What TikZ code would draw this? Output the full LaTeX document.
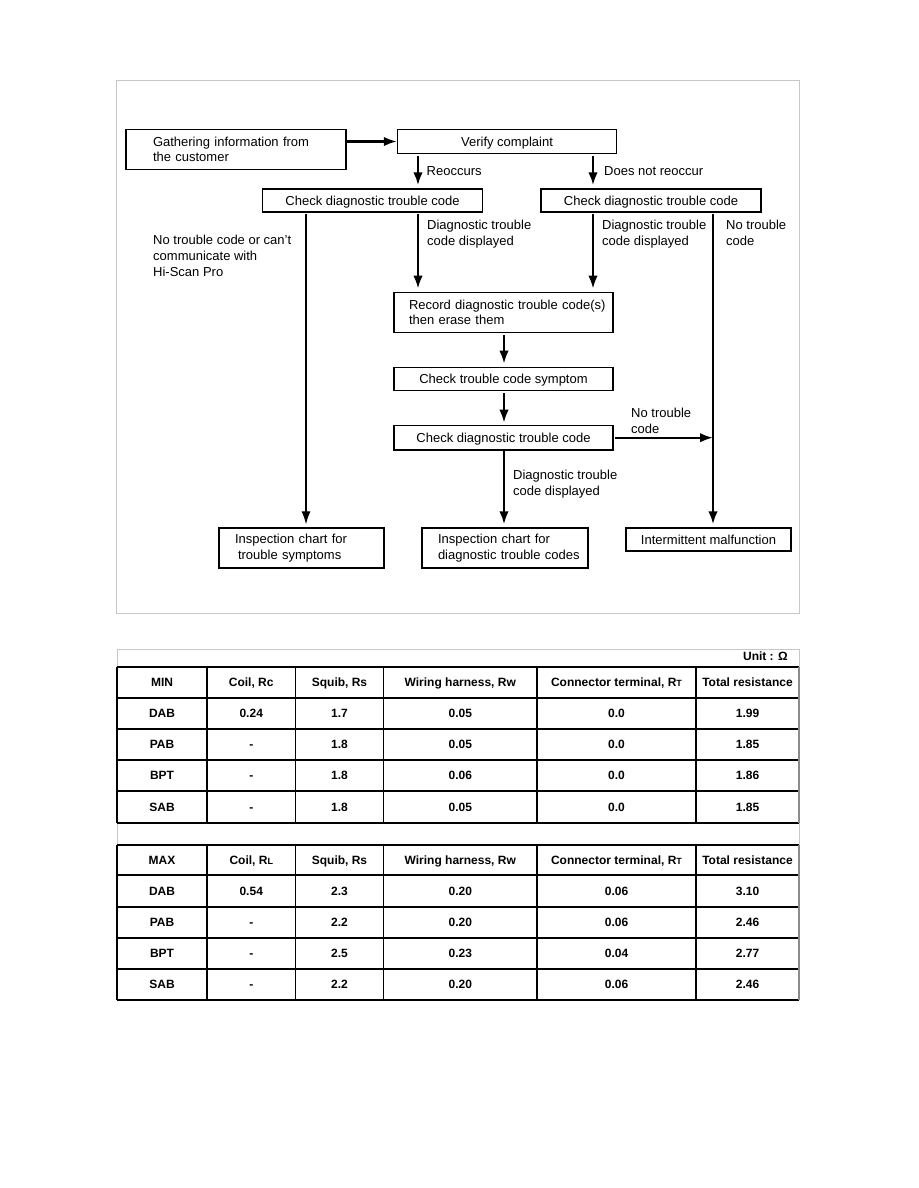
\documentclass[tikz,border=0pt]{standalone}
\usepackage{fontspec}
\setmainfont{Liberation Sans}
\usetikzlibrary{arrows.meta}
\newcommand\flowfont{\fontsize{13}{15.7}\selectfont}
\newcommand\tabfont{\fontsize{12}{14}\selectfont\bfseries}
\newcommand\smallsub[1]{{\fontsize{9}{9}\selectfont #1}}
\newcommand\trow[8]{%
  \node[cell] (#1a) at (162,#2) {#3};
  \node[cell] (#1b) at (251.25,#2) {#4};
  \node[cell] (#1c) at (339.5,#2) {#5};
  \node[cell] (#1d) at (460.25,#2) {#6};
  \node[cell] (#1e) at (616.5,#2) {#7};
  \node[cell] (#1f) at (747.5,#2) {#8};
}
\tikzset{
  box/.style={draw, line width=1.4pt, inner sep=0pt, font=\flowfont},
  oneline/.style={text height=9.4pt, text depth=0pt},
  lbl/.style={anchor=north west, inner sep=0pt, align=left, font=\flowfont},
  arr/.style={line width=2.3pt, -{Latex[length=13pt,width=9.5pt]}},
  thinarr/.style={line width=1.2pt, -{Latex[length=13pt,width=9pt]}},
  gframe/.style={draw=black!22, line width=1pt},
  grid/.style={draw=black, line width=1.2pt},
  cell/.style={inner sep=0pt, font=\tabfont, text height=8.6pt, text depth=0pt},
}
\begin{document}
\begin{tikzpicture}[x=1pt,y=-1pt]
\useasboundingbox (0,0) rectangle (918,1188);
\fill[white] (0,0) rectangle (918,1188);

% ---------- flowchart ----------
\draw[gframe] (116,81) rectangle (799,613);

\node[box, minimum width=220pt, minimum height=40pt, text width=166pt, align=left] (gather) at (236,149.5) {\mbox{Gathering information from}\\\mbox{the customer}};
\node[box, oneline, minimum width=219pt, minimum height=24.4pt] (verify) at (507,141.5) {Verify complaint};
\node[box, oneline, minimum width=220pt, minimum height=23pt] (chkL) at (372.5,200.5) {Check diagnostic trouble code};
\node[box, oneline, minimum width=220pt, minimum height=23pt] (chkR) at (651,200.5) {Check diagnostic trouble code};
\node[box, minimum width=219pt, minimum height=40pt, text width=189pt, align=left] (record) at (503.5,312.3) {\mbox{Record diagnostic trouble code(s)}\\\mbox{then erase them}};
\node[box, oneline, minimum width=219pt, minimum height=23pt] (symptom) at (503.5,378.8) {Check trouble code symptom};
\node[box, oneline, minimum width=219pt, minimum height=24.7pt] (chkM) at (503.5,437.7) {Check diagnostic trouble code};
\node[box, minimum width=165pt, minimum height=40pt, text width=133pt, align=left] (insp1) at (301.5,548) {\mbox{Inspection chart for}\\\mbox{\hspace*{3pt}trouble symptoms}};
\node[box, minimum width=166pt, minimum height=40pt, text width=134pt, align=left] (insp2) at (505,548) {\mbox{Inspection chart for}\\\mbox{diagnostic trouble codes}};
\node[box, oneline, minimum width=165pt, minimum height=23pt] (inter) at (708.5,539.5) {Intermittent malfunction};

\coordinate (xa) at (418,0);
\coordinate (xb) at (593,0);
\coordinate (xc) at (306,0);
\coordinate (xd) at (713,0);
\coordinate (xm) at (504,0);

\draw[arr] (gather.east |- verify.west) -- (verify.west);
\draw[arr, shorten <=1.5pt, shorten >=3pt] (verify.south -| xa) -- (chkL.north -| xa);
\draw[arr, shorten <=1.5pt, shorten >=3pt] (verify.south -| xb) -- (chkR.north -| xb);
\draw[arr, shorten <=1.5pt, shorten >=3pt] (chkL.south -| xa) -- (record.north -| xa);
\draw[arr, shorten <=1.5pt, shorten >=3pt] (chkR.south -| xb) -- (record.north -| xb);
\draw[thinarr, shorten <=1.5pt, shorten >=3pt] (chkL.south -| xc) -- (insp1.north -| xc);
\draw[arr, shorten <=1.5pt, shorten >=3pt] (chkR.south -| xd) -- (inter.north -| xd);
\draw[arr, shorten <=2pt, shorten >=3pt] (record.south -| xm) -- (symptom.north -| xm);
\draw[arr, shorten <=2pt, shorten >=2pt] (symptom.south -| xm) -- (chkM.north -| xm);
\draw[arr, shorten >=3pt] (chkM.south -| xm) -- (insp2.north -| xm);
\draw[arr, shorten <=1pt] (chkM.east) -- (chkM.east -| xd);

\node[lbl] (lreo) at (426.5,166) {Reoccurs};
\node[lbl] (ldnr) at (604,166) {Does not reoccur};
\node[lbl] (lnoc) at (153,235.2) {No trouble code or can't\\communicate with\\Hi-Scan Pro};
\node[lbl] (ldtcL) at (427,220.2) {Diagnostic trouble\\code displayed};
\node[lbl] (ldtcR) at (602,220.2) {Diagnostic trouble\\code displayed};
\node[lbl] (lntR) at (726,220.2) {No trouble\\code};
\node[lbl] (lntM) at (631,408.2) {No trouble\\code};
\node[lbl] (ldtcM) at (513,470.2) {Diagnostic trouble\\code displayed};

% ---------- table ----------
\draw[gframe] (117,667) -- (117,649) -- (799,649) -- (799,1000);
\draw[gframe] (117,823) -- (117,845);
\node[cell, anchor=east] (unit) at (788,656) {Unit : Ω};

\foreach \yy in {667,698,729,760,791,823,845,875,907,938,969,1000}
  \draw[grid] (117,\yy) -- (799,\yy);
\foreach \xx in {117,207,295.5,383.5,537,696} {
  \draw[grid] (\xx,667) -- (\xx,823);
  \draw[grid] (\xx,845) -- (\xx,1000);
}
\draw[draw=black!45, line width=1.2pt] (799,667) -- (799,823);
\draw[draw=black!45, line width=1.2pt] (799,845) -- (799,1000);

\trow{mh}{682.5}{MIN}{Coil, Rc}{Squib, Rs}{Wiring harness, Rw}{Connector terminal, R\smallsub{T}}{Total resistance}
\trow{ma}{713.5}{DAB}{0.24}{1.7}{0.05}{0.0}{1.99}
\trow{mb}{744.5}{PAB}{-}{1.8}{0.05}{0.0}{1.85}
\trow{mc}{775.5}{BPT}{-}{1.8}{0.06}{0.0}{1.86}
\trow{md}{807}{SAB}{-}{1.8}{0.05}{0.0}{1.85}

\trow{xh}{860}{MAX}{Coil, R\smallsub{L}}{Squib, Rs}{Wiring harness, Rw}{Connector terminal, R\smallsub{T}}{Total resistance}
\trow{xa}{891}{DAB}{0.54}{2.3}{0.20}{0.06}{3.10}
\trow{xb}{922.5}{PAB}{-}{2.2}{0.20}{0.06}{2.46}
\trow{xc}{953.5}{BPT}{-}{2.5}{0.23}{0.04}{2.77}
\trow{xd}{984.5}{SAB}{-}{2.2}{0.20}{0.06}{2.46}
\end{tikzpicture}
\end{document}
